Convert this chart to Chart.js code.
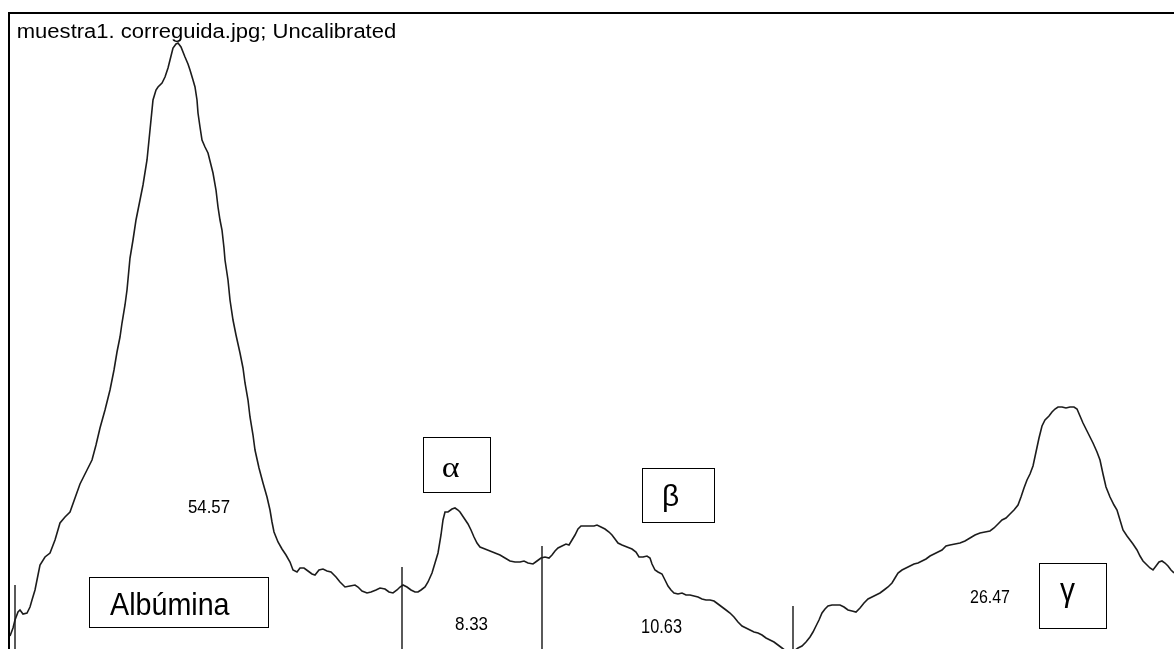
<!DOCTYPE html>
<html>
<head>
<meta charset="utf-8">
<title>muestra1 densitograma</title>
<script src="https://cdn.jsdelivr.net/npm/chart.js@4.4.1/dist/chart.umd.min.js"></script>
<style>
  html, body { margin: 0; padding: 0; background: #ffffff; }
  #wrap { width: 1174px; height: 649px; }
  canvas { display: block; }
</style>
</head>
<body>
<div id="wrap"><canvas id="trace" width="1174" height="649"></canvas></div>
<script>
// Densitometric scan of the electrophoresis strip (position along strip, optical density)
const position = [
  10,13,15,18,20,23,27,30,32,35,38,40,45,50,55,60,65,70,75,80,86,92,96,100,105,110,114,117,120,122,
  125,127,130,133,136,140,143,147,150,153,156,158,162,165,168,170,173,176,178,181,185,188,190,193,195,197,198,200,202,205,
  208,211,213,216,218,220,222,224,225,228,230,233,236,240,243,245,248,250,253,255,259,263,267,270,272,274,278,282,286,290,
  293,297,300,304,308,312,315,319,323,327,331,336,340,345,350,355,358,362,367,371,376,380,385,389,393,397,400,403,407,411,
  415,418,421,425,428,432,435,438,441,443,445,448,452,455,458,460,464,468,471,474,477,480,485,490,495,500,505,510,515,520,
  524,528,533,537,541,545,549,552,555,558,562,566,569,572,575,578,581,586,590,594,597,601,605,609,612,615,618,622,627,632,
  636,639,643,647,650,652,655,658,662,665,668,671,674,678,682,686,690,694,698,702,706,710,714,718,722,726,730,734,738,742,
  746,750,754,758,762,766,770,774,778,782,786,790,794,798,802,806,810,813,816,819,822,825,828,832,836,840,844,848,852,856,
  860,864,868,872,876,880,884,888,892,895,898,902,906,910,914,918,922,926,930,934,938,942,946,950,955,960,965,970,975,980,
  985,990,994,998,1002,1006,1010,1014,1018,1021,1024,1027,1030,1033,1036,1039,1042,1045,1049,1052,1055,1058,1062,1066,1070,1074,1077,1080,1083,1087,
  1090,1093,1097,1100,1103,1106,1110,1114,1117,1120,1123,1127,1130,1133,1137,1140,1143,1147,1150,1153,1156,1159,1162,1165,1168,1171,1174
];
const density = [
  13,21,29,37,39,35,36,42,49,59,74,84,92,96,109,126,132,137,151,165,177,189,204,221,239,259,279,297,312,326,
  344,359,391,409,429,449,464,489,519,549,559,562,566,572,581,589,601,605,606,602,592,585,579,569,562,549,536,522,509,502,
  496,484,476,459,442,429,419,401,389,369,349,329,314,296,281,266,249,232,214,199,181,166,152,139,127,117,107,100,94,87,
  79,77,81,81,78,75,74,79,80,78,77,72,67,62,63,64,62,58,56,57,59,61,60,57,56,59,62,64,62,59,
  57,57,59,62,67,76,86,96,114,129,137,137,140,141,139,137,131,125,119,112,106,102,100,98,96,94,91,88,87,87,
  88,86,85,88,91,92,91,94,98,101,103,105,104,109,114,120,123,123,123,123,124,122,120,117,114,110,106,104,102,100,
  97,92,92,93,91,85,79,77,75,69,63,59,56,55,56,54,54,53,52,50,49,49,48,45,42,39,36,32,27,23,
  21,19,17,16,14,11,9,7,4,1,-2,-4,-2,1,3,7,12,17,23,29,36,40,43,44,44,44,42,39,38,37,
  41,46,50,52,54,56,59,62,66,71,76,79,81,83,85,86,88,90,93,95,97,99,103,104,105,106,108,111,114,116,
  117,118,121,125,129,131,135,139,144,152,161,169,175,183,197,211,223,229,233,237,240,242,242,241,242,242,240,233,226,218,
  212,206,197,189,175,162,152,144,139,129,119,113,109,105,99,93,88,84,81,79,83,87,88,86,83,79,76
];

// Fraction boundaries along the strip and the drawn height of each marker
const dividerPosition = [15, 402, 542, 793];
const dividerHeight = [64, 82, 103, 43];

// Fractions and their percentages
const fractionNames = ['Albúmina', 'α', 'β', 'γ'];
const fractionPercent = [54.57, 8.33, 10.63, 26.47];

const titleText = 'muestra1. correguida.jpg; Uncalibrated';

// Ink boxes for the annotations, in data units: [x0, x1, yTop, yBottom]
const percentBoxes = [
  [188, 230, 149, 136],
  [455, 488, 32, 19],
  [642, 682, 30, 16],
  [970, 1010, 59, 46]
];
const nameFrames = [
  [89, 268, 72, 22],
  [423, 490, 212, 157],
  [642, 714, 181, 127],
  [1039, 1106, 86, 21]
];
const nameInk = [
  [110, 230, 56, 34],
  [443, 460, 186, 172],
  [663, 678, 164, 137],
  [1060, 1075, 66, 41]
];
const nameFonts = [
  '28px "Liberation Sans", Arial, sans-serif',
  '28px "Liberation Serif", "Times New Roman", serif',
  '28px "Liberation Sans", Arial, sans-serif',
  '30px "Liberation Sans", Arial, sans-serif'
];

// Draw text so its ink fills the given pixel box exactly
function fitText(ctx, str, font, x0, x1, top, bottom) {
  ctx.font = font;
  const m = ctx.measureText(str);
  const w = m.actualBoundingBoxLeft + m.actualBoundingBoxRight;
  const h = m.actualBoundingBoxAscent + m.actualBoundingBoxDescent;
  ctx.save();
  ctx.translate(x0, top);
  ctx.scale((x1 - x0) / w, (bottom - top) / h);
  ctx.textAlign = 'left';
  ctx.textBaseline = 'alphabetic';
  ctx.fillText(str, m.actualBoundingBoxLeft, m.actualBoundingBoxAscent);
  ctx.restore();
}

const annotations = {
  id: 'annotations',
  afterDraw(chart) {
    const ctx = chart.ctx;
    const xs = chart.scales.x, ys = chart.scales.y;
    const px = v => xs.getPixelForValue(v);
    const py = v => ys.getPixelForValue(v);
    ctx.save();
    ctx.fillStyle = '#000';
    ctx.strokeStyle = '#000';

    // outer frame of the scan window
    ctx.lineWidth = 2;
    ctx.beginPath();
    ctx.moveTo(9, 649);
    ctx.lineTo(9, 13);
    ctx.lineTo(1174, 13);
    ctx.stroke();

    fitText(ctx, titleText, '18px "Liberation Sans", Arial, sans-serif', 18, 395, 23, 42);

    // percentage of each fraction
    fractionPercent.forEach((p, i) => {
      const b = percentBoxes[i];
      fitText(ctx, p.toFixed(2), '18px "Liberation Sans", Arial, sans-serif',
        px(b[0]), px(b[1]), py(b[2]), py(b[3]));
    });

    // boxed fraction names
    ctx.lineWidth = 1;
    fractionNames.forEach((n, i) => {
      const f = nameFrames[i];
      const l = Math.round(px(f[0])) + 0.5, t = Math.round(py(f[2])) + 0.5;
      const r = Math.round(px(f[1])) + 0.5, b = Math.round(py(f[3])) + 0.5;
      ctx.strokeRect(l, t, r - l, b - t);
      const k = nameInk[i];
      fitText(ctx, n, nameFonts[i], px(k[0]), px(k[1]), py(k[2]), py(k[3]));
    });
    ctx.restore();
  }
};

const traceData = position.map((x, i) => ({ x: x, y: density[i] }));
const dividerSets = dividerPosition.map((x, i) => ({
  data: [{ x: x, y: 0 }, { x: x, y: dividerHeight[i] }],
  borderColor: '#000',
  borderWidth: 1.3,
  pointRadius: 0,
  fill: false
}));

new Chart(document.getElementById('trace'), {
  type: 'line',
  data: {
    datasets: [{
      data: traceData,
      borderColor: '#1c1c1c',
      borderWidth: 1.6,
      pointRadius: 0,
      tension: 0,
      fill: false
    }].concat(dividerSets)
  },
  options: {
    responsive: false,
    animation: false,
    devicePixelRatio: 1,
    layout: { padding: 0 },
    parsing: true,
    plugins: {
      legend: { display: false },
      tooltip: { enabled: false },
      title: { display: false }
    },
    scales: {
      x: { type: 'linear', min: 0, max: 1174, display: false },
      y: { type: 'linear', min: 0, max: 649, display: false }
    }
  },
  plugins: [annotations]
});
</script>
</body>
</html>
